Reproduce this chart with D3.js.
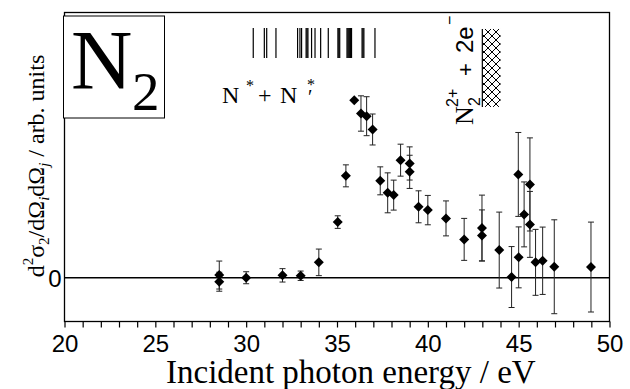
<!DOCTYPE html>
<html><head><meta charset="utf-8">
<script src="https://cdn.jsdelivr.net/npm/d3@7"></script>
<style>body{margin:0;background:#fff} svg{display:block}</style>
</head><body>
<script>
// ---- data ----
const energy = [28.52, 28.52, 30.0, 32.0, 33.0, 34.0, 35.04, 35.49, 35.95, 36.32, 36.63, 36.96, 37.38, 37.79, 38.12, 38.5, 39.0, 39.0, 39.49, 40.0, 41.0, 42.0, 42.98, 42.98, 43.93, 44.61, 44.98, 45.0, 45.3, 45.62, 45.62, 45.93, 46.32, 46.96, 48.98];
const signal = [0.027, -0.04, 0.0, 0.024, 0.02, 0.154, 0.557, 1.02, 1.777, 1.644, 1.617, 1.484, 0.97, 0.85, 0.827, 1.177, 1.144, 1.06, 0.71, 0.677, 0.594, 0.384, 0.497, 0.424, 0.277, 0.007, 1.034, 0.204, 0.634, 0.934, 0.534, 0.154, 0.17, 0.11, 0.107];
const errorBar = [0.14, 0.095, 0.06, 0.067, 0.047, 0.133, 0.063, 0.11, 0.0, 0.177, 0.195, 0.155, 0.14, 0.20, 0.15, 0.16, 0.166, 0.166, 0.16, 0.147, 0.175, 0.21, 0.33, 0.255, 0.38, 0.305, 0.42, 0.305, 0.325, 0.466, 0.33, 0.33, 0.337, 0.47, 0.45];
// N* + N*' dissociation limits (eV)
const levelEnergies = [30.39, 31.0, 31.13, 31.64, 32.83, 32.96, 33.05, 33.3, 33.35, 33.4, 33.6, 33.79, 34.1, 34.52, 35.05, 35.1, 35.15, 35.55, 35.6, 35.65, 35.7, 35.75, 35.8, 36.38, 36.43, 36.48, 37.09];
const levelSpan = [2.2, 2.5];          // vertical extent (arb. units)
const thresholdEnergy = [43.0, 44.0];  // N2(2+) + 2e- continuum
const thresholdSpan = [1.71, 2.49];
const xDomain = [20, 50];
const yDomain = [-0.44, 2.66];
const xTickLabels = [20, 25, 30, 35, 40, 45, 50];
const yTickLabels = [0];

// ---- drawing ----
const W = 630, H = 389;
const L = 64.5, R = 609.5, T = 12.5, B = 321.5;
const serif = "'Liberation Serif','Times New Roman',serif";
const sans = "'Liberation Sans',Arial,sans-serif";

const x = d3.scaleLinear().domain(xDomain).range([L, R]);
const y = d3.scaleLinear().domain(yDomain).range([321.7, 12]);

const svg = d3.select("body").append("svg").attr("width", W).attr("height", H);
const defs = svg.append("defs");
const pat = defs.append("pattern").attr("id", "hatch").attr("patternUnits", "userSpaceOnUse")
  .attr("width", 8).attr("height", 8);
pat.append("path").attr("d", "M0,0L8,8M8,0L0,8").attr("stroke", "#000").attr("stroke-width", 1);

// x axis
const xAxis = d3.axisBottom(x).tickValues(d3.range(20, 51, 1)).tickSize(6).tickPadding(7.5)
  .tickFormat(d => xTickLabels.includes(d) ? String(d) : "");
const gx = svg.append("g").attr("transform", `translate(0,${B})`).call(xAxis);
gx.select(".domain").remove();
gx.selectAll("line").attr("stroke", "#000").attr("stroke-width", 1.2);
gx.selectAll("text").attr("font-family", sans).attr("font-size", 24).attr("fill", "#000");

// y axis
const yAxis = d3.axisLeft(y).tickValues(yTickLabels).tickSize(0).tickPadding(3).tickFormat(d => String(d));
const gy = svg.append("g").attr("transform", `translate(${L},0)`).call(yAxis);
gy.select(".domain").remove();
gy.selectAll("text").attr("font-family", sans).attr("font-size", 24).attr("fill", "#000").attr("dy", "0.36em");

// zero line
svg.append("line").attr("x1", L).attr("x2", R).attr("y1", y(0)).attr("y2", y(0))
  .attr("stroke", "#000").attr("stroke-width", 1.3);

// frame
svg.append("rect").attr("x", L).attr("y", T).attr("width", R - L).attr("height", B - T)
  .attr("fill", "none").attr("stroke", "#000").attr("stroke-width", 1.3);

// level lines
svg.append("g").selectAll("line").data(levelEnergies).join("line")
  .attr("x1", d => x(d)).attr("x2", d => x(d))
  .attr("y1", y(levelSpan[1])).attr("y2", y(levelSpan[0]))
  .attr("stroke", "#000").attr("stroke-width", 1.2);

// threshold hatch
svg.append("rect").attr("x", x(thresholdEnergy[0])).attr("y", y(thresholdSpan[1]))
  .attr("width", x(thresholdEnergy[1]) - x(thresholdEnergy[0]))
  .attr("height", y(thresholdSpan[0]) - y(thresholdSpan[1]))
  .attr("fill", "url(#hatch)");
svg.append("line").attr("x1", x(thresholdEnergy[0])).attr("x2", x(thresholdEnergy[0]))
  .attr("y1", y(thresholdSpan[1])).attr("y2", y(thresholdSpan[0]))
  .attr("stroke", "#000").attr("stroke-width", 1.2);

// error bars
const pts = energy.map((e, i) => ({ e, v: signal[i], err: errorBar[i] }));
const eb = svg.append("g").attr("stroke", "#222").attr("stroke-width", 1);
pts.filter(d => d.err > 0).forEach(d => {
  const cx = x(d.e), y1 = y(d.v + d.err), y2 = y(d.v - d.err);
  eb.append("line").attr("x1", cx).attr("x2", cx).attr("y1", y1).attr("y2", y2);
  eb.append("line").attr("x1", cx - 3).attr("x2", cx + 3).attr("y1", y1).attr("y2", y1);
  eb.append("line").attr("x1", cx - 3).attr("x2", cx + 3).attr("y1", y2).attr("y2", y2);
});
// markers
svg.append("g").selectAll("path").data(pts).join("path")
  .attr("transform", d => `translate(${x(d.e)},${y(d.v)})`)
  .attr("d", "M0,-5L5,0L0,5L-5,0Z").attr("fill", "#000");

// N2 box
svg.append("rect").attr("x", 63.5).attr("y", 16).attr("width", 101).attr("height", 102)
  .attr("fill", "#fff").attr("stroke", "#000").attr("stroke-width", 1);
svg.append("text").attr("x", 71).attr("y", 89).attr("font-family", serif).attr("font-size", 85).text("N");
svg.append("text").attr("x", 132).attr("y", 110).attr("font-family", serif).attr("font-size", 55).text("2");

// N* + N*' label
const lab = svg.append("g").attr("font-family", serif).attr("fill", "#000");
lab.append("text").attr("x", 222).attr("y", 103).attr("font-size", 24).text("N");
lab.append("text").attr("x", 246).attr("y", 91).attr("font-size", 16).text("*");
lab.append("text").attr("x", 258).attr("y", 103).attr("font-size", 24).text("+");
lab.append("text").attr("x", 280).attr("y", 103).attr("font-size", 24).text("N");
lab.append("text").attr("x", 307).attr("y", 90).attr("font-size", 16).text("*");
lab.append("text").attr("x", 308).attr("y", 104).attr("font-size", 20).text("\u2032");

// N2(2+) + 2e- label (rotated)
const rl = svg.append("g").attr("transform", "translate(473,125) rotate(-90)").attr("fill", "#000");
rl.append("text").attr("x", 0).attr("y", 0).attr("font-family", serif).attr("font-size", 26).text("N");
rl.append("text").attr("x", 19).attr("y", 7).attr("font-family", sans).attr("font-size", 16).text("2");
rl.append("text").attr("x", 18).attr("y", -15).attr("font-family", sans).attr("font-size", 16).text("2+");
rl.append("text").attr("x", 49).attr("y", 0).attr("font-family", sans).attr("font-size", 22).text("+");
rl.append("text").attr("x", 72).attr("y", 0).attr("font-family", sans).attr("font-size", 24).text("2e");
rl.append("text").attr("x", 100).attr("y", -18).attr("font-family", sans).attr("font-size", 16).text("\u2212");

// y label
const yl = svg.append("text").attr("transform", "translate(44,166) rotate(-90)")
  .attr("text-anchor", "middle").attr("font-family", serif).attr("font-size", 24).attr("fill", "#000");
yl.append("tspan").text("d");
yl.append("tspan").attr("font-size", 15).attr("dy", -11).text("2");
yl.append("tspan").attr("dy", 11).text("σ");
yl.append("tspan").attr("font-size", 15).attr("dy", 5).text("2");
yl.append("tspan").attr("dy", -5).text("/dΩ");
yl.append("tspan").attr("font-size", 15).attr("font-style", "italic").attr("dy", 5).text("i");
yl.append("tspan").attr("dy", -5).text("dΩ");
yl.append("tspan").attr("font-size", 15).attr("font-style", "italic").attr("dy", 5).text("j");
yl.append("tspan").attr("dy", -5).text(" / arb. units");

// x label
svg.append("text").attr("x", 166).attr("y", 383).attr("font-family", serif).attr("font-size", 33)
  .attr("fill", "#000").text("Incident photon energy / eV");
</script>
</body></html>
